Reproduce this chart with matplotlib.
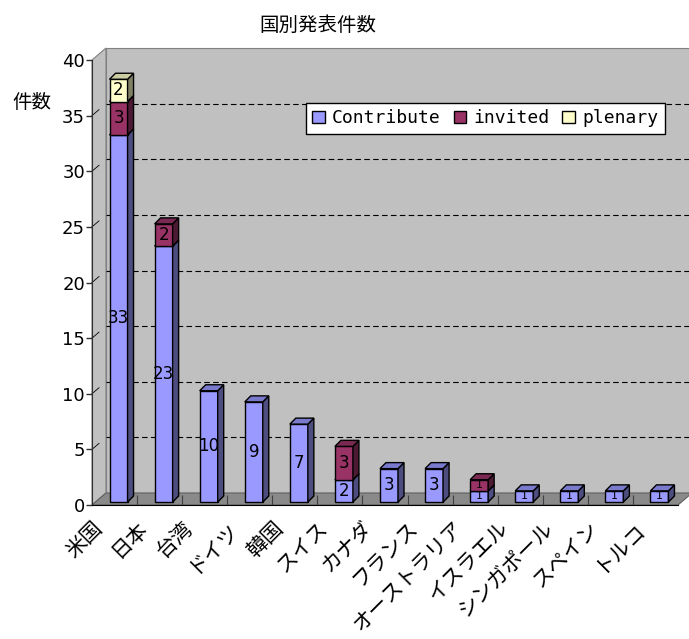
import matplotlib
matplotlib.use("Agg")
import matplotlib.pyplot as plt
from matplotlib.patches import Polygon, Patch
from matplotlib.transforms import ScaledTranslation
import numpy as np

# ---- data -------------------------------------------------------------
countries = ["米国", "日本", "台湾", "ドイツ", "韓国", "スイス", "カナダ", "フランス",
             "オーストラリア", "イスラエル", "シンガポール", "スペイン", "トルコ"]
contribute = [33, 23, 10, 9, 7, 2, 3, 3, 1, 1, 1, 1, 1]
invited = [3, 2, 0, 0, 0, 3, 0, 0, 1, 0, 0, 0, 0]
plenary = [2, 0, 0, 0, 0, 0, 0, 0, 0, 0, 0, 0, 0]
series_names = ["Contribute", "invited", "plenary"]
yticks = [0, 5, 10, 15, 20, 25, 30, 35, 40]

# ---- style ------------------------------------------------------------
COLORS = ["#9999FF", "#993366", "#FFFFCC"]
WALL = "#C0C0C0"
FLOOR = "#8A8A8A"
EDGE = "#808080"
JP = ["Noto Sans CJK JP", "DejaVu Sans"]

W, H, DPI = 689, 639, 100
# pseudo-3D offsets, in output pixels
WALL_DX, WALL_DY = 14, 12
BAR_DX, BAR_DY = 6, 6
SHIFT_X, SHIFT_Y = 4, 3
BAR_PX = 18

fig = plt.figure(figsize=(W / DPI, H / DPI), dpi=DPI)
ax = fig.add_axes([92 / W, (H - 505) / H, 586 / W, 445 / H])
ax.set_xlim(-0.5, len(countries) - 0.5)
ax.set_ylim(0, 40)
ax.patch.set_visible(False)

# pixel -> data unit conversions
ux = (len(countries)) / 586
uy = 40 / 445
wdx, wdy = WALL_DX * ux, WALL_DY * uy
bdx, bdy = BAR_DX * ux, BAR_DY * uy
bw = BAR_PX * ux
x0, x1 = -0.5, len(countries) - 0.5


def shade(hexcol, k):
    c = np.array(matplotlib.colors.to_rgb(hexcol))
    return tuple(c * k)


def poly(pts, fc, ec=EDGE, lw=0.8, z=0):
    ax.add_patch(Polygon(pts, closed=True, facecolor=fc, edgecolor=ec,
                         linewidth=lw, clip_on=False, zorder=z))


# walls and floor
poly([(x0 + wdx, wdy), (x1 + wdx, wdy), (x1 + wdx, 40 + wdy), (x0 + wdx, 40 + wdy)], WALL)
poly([(x0, 0), (x0 + wdx, wdy), (x0 + wdx, 40 + wdy), (x0, 40)], WALL)
poly([(x0, 0), (x1, 0), (x1 + wdx, wdy), (x0 + wdx, wdy)], FLOOR, ec="#606060")

for v in yticks[1:-1]:
    ax.plot([x0 + wdx, x1 + wdx], [v + wdy, v + wdy], color="black", lw=0.8,
            dashes=(5, 3), clip_on=False, zorder=1)
    ax.plot([x0, x0 + wdx * 0.5], [v, v + wdy * 0.5], color="black", lw=0.6,
            clip_on=False, zorder=1)

# stacked boxes
data = [contribute, invited, plenary]
bottoms = np.zeros(len(countries))
for vals, col in zip(data, COLORS):
    for i, v in enumerate(vals):
        if v == 0:
            continue
        xl = i - bw / 2 + SHIFT_X * ux
        xr = xl + bw
        y0 = bottoms[i] + SHIFT_Y * uy
        y1 = y0 + v
        poly([(xl, y0), (xr, y0), (xr, y1), (xl, y1)], col, ec="black", lw=1.0, z=3)
        poly([(xr, y0), (xr + bdx, y0 + bdy), (xr + bdx, y1 + bdy), (xr, y1)],
             shade(col, 0.5), ec="black", lw=1.0, z=3)
        poly([(xl, y1), (xr, y1), (xr + bdx, y1 + bdy), (xl + bdx, y1 + bdy)],
             shade(col, 0.8), ec="black", lw=1.0, z=3)
        ax.text((xl + xr) / 2, (y0 + y1) / 2, str(v), ha="center", va="center",
                fontsize=12 if v > 1 else 8, color="black", zorder=4)
    bottoms += np.array(vals)

# axes
for s in ["top", "right"]:
    ax.spines[s].set_visible(False)
ax.spines["left"].set_color("#303030")
ax.spines["bottom"].set_color("black")
ax.set_yticks(yticks)
ax.tick_params(axis="y", direction="out", length=4, width=1, color="#303030",
               labelsize=13, pad=1)

ax.set_xticks(range(len(countries)))
ax.set_xticklabels(countries, rotation=45, ha="right", va="center",
                   rotation_mode="anchor", fontsize=15, family=JP)
ax.tick_params(axis="x", which="major", length=0, pad=14)
offset = ScaledTranslation(-15 / DPI, 0, fig.dpi_scale_trans)
for lbl in ax.get_xticklabels():
    lbl.set_transform(lbl.get_transform() + offset)
ax.set_xticks(np.arange(0.5, len(countries) - 1, 1), minor=True)
ax.tick_params(axis="x", which="minor", direction="in", length=7, width=0.8,
               color="#404040")

fig.text(318 / W, 1 - 25 / H, "国別発表件数", ha="center", va="center",
         fontsize=14, family=JP)
fig.text(32 / W, 1 - 103 / H, "件数", ha="center", va="center",
         fontsize=14, family=JP)

handles = [Patch(facecolor=c, edgecolor="black", linewidth=1.0) for c in COLORS]
leg = fig.legend(handles, series_names, loc="upper left",
                 bbox_to_anchor=(306 / W, 1 - 103 / H), ncol=3, fancybox=False,
                 edgecolor="black", framealpha=1, borderaxespad=0,
                 prop={"family": "DejaVu Sans Mono", "size": 13},
                 handlelength=0.7, handleheight=0.7, handletextpad=0.4,
                 columnspacing=0.7, borderpad=0.35)
leg.get_frame().set_linewidth(1.0)

fig.savefig("out.png", dpi=DPI)
